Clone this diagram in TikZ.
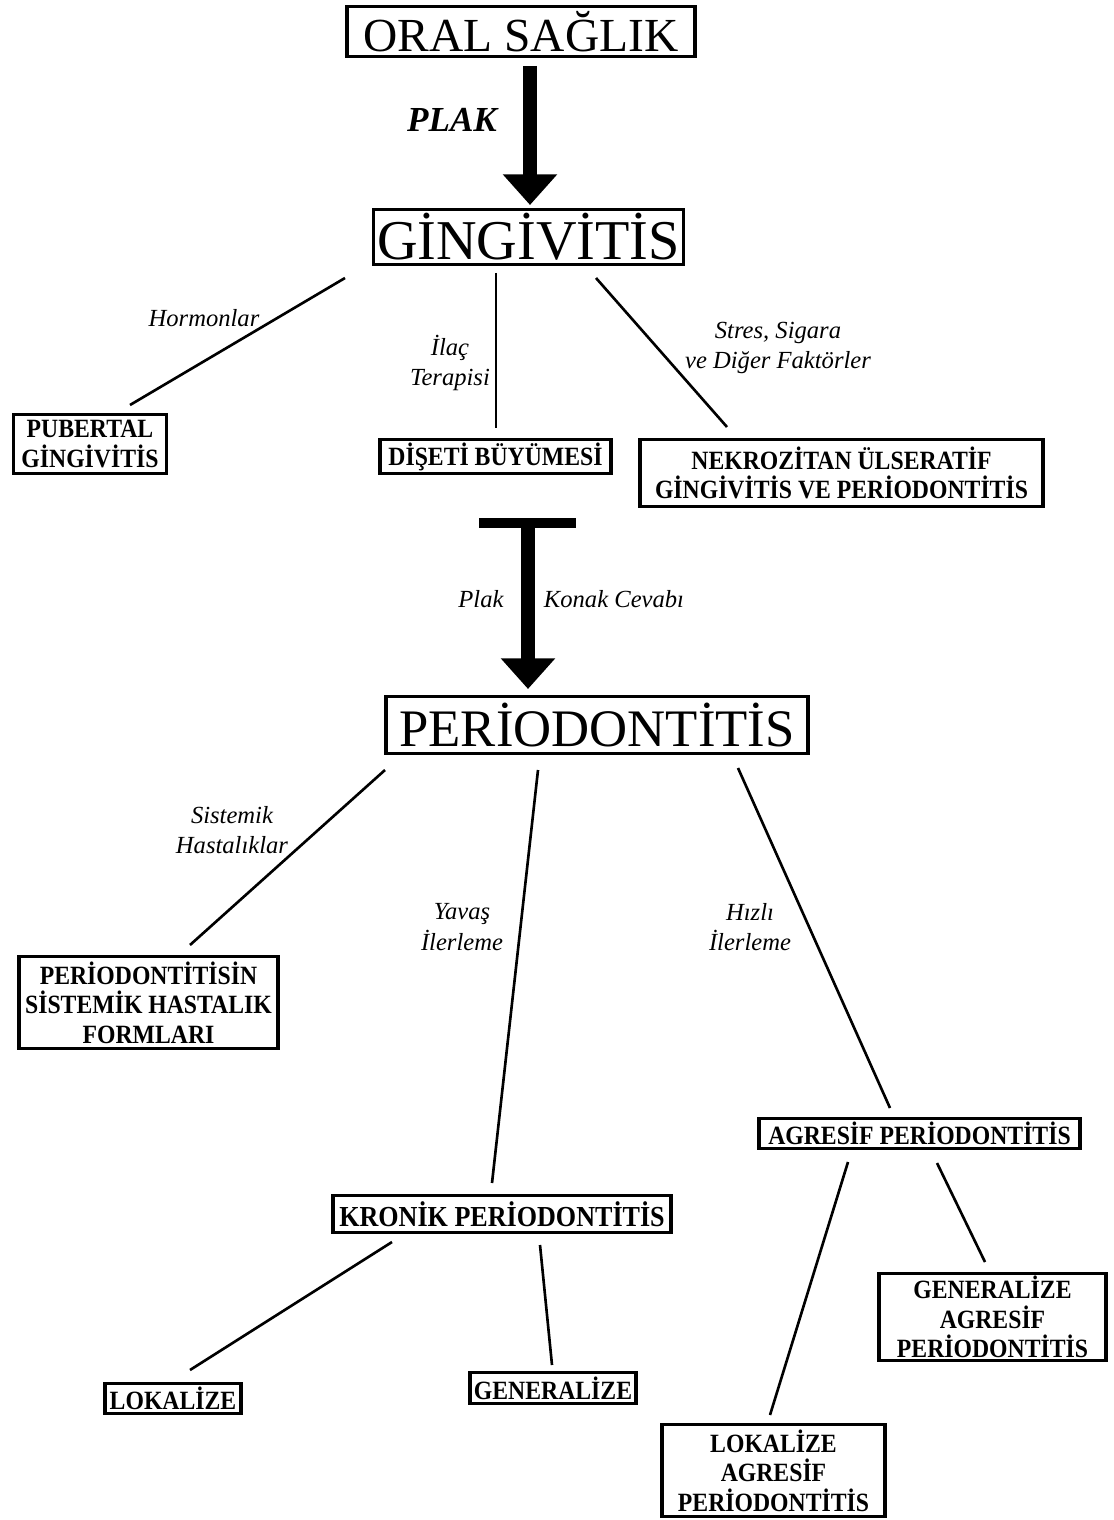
\documentclass[tikz,border=0pt]{standalone}
\usepackage{fontspec}
\setmainfont{Liberation Serif}
\newfontfamily\narrowbold{Liberation Serif}[FakeStretch=0.9]
\usetikzlibrary{arrows.meta}

\begin{document}
\begin{tikzpicture}[x=0.02cm,y=-0.02cm,
    box/.style={draw,line width=2.2pt,inner sep=0pt,align=center},
    headbox/.style={box,font=\fontsize{#1}{#1}\selectfont},
    itembox/.style={box,font=\narrowbold\bfseries\fontsize{#1}{16.8}\selectfont},
    itembox/.default=15,
    lbl/.style={font=\itshape\fontsize{14}{17.5}\selectfont,align=center,inner sep=0pt},
    link/.style={line width=1.5pt},
    bigarrow/.style={line width=8pt,-{Triangle[width=30pt,length=17.5pt]}}]
    \useasboundingbox (0,0) rectangle (1114,1520);
    % top
    \node[headbox=27,minimum width=6.97cm,minimum height=1cm] (oral) at (521,31.5) {ORAL SAĞLIK};
    \node[headbox=32,minimum width=6.2cm,minimum height=1.1cm] (ging) at (528.5,237) {GİNGİVİTİS};
    \coordinate (plakA) at (530,66);
    \coordinate (plakB) at (530,205);
    \draw[bigarrow] (plakA) -- (plakB);
    \node[font=\bfseries\itshape\fontsize{20}{24}\selectfont] (plak) at (452,120) {PLAK};
    % gingivitis branches
    \node[itembox,minimum width=3.06cm,minimum height=1.18cm] (pub) at (90,444) {PUBERTAL\\GİNGİVİTİS};
    \node[itembox,minimum width=4.63cm,minimum height=0.68cm] (dis) at (495.5,456.5) {DİŞETİ BÜYÜMESİ};
    \node[itembox,minimum width=8.07cm,minimum height=1.34cm] (nek) at (841.5,473) {NEKROZİTAN ÜLSERATİF\\GİNGİVİTİS VE PERİODONTİTİS};
    \coordinate (ging-l) at (345,278);
    \coordinate (pub-t) at (130,405);
    \coordinate (ging-m) at (496,273);
    \coordinate (dis-t) at (496,428);
    \coordinate (ging-r) at (596,278);
    \coordinate (nek-t) at (727,427);
    \draw[link] (ging-l) -- (pub-t);
    \draw[link] (ging-m) -- (dis-t);
    \draw[link] (ging-r) -- (nek-t);
    \node[lbl] (hormon) at (204,318) {Hormonlar};
    \node[lbl] (ilac) at (450,363) {İlaç\\Terapisi};
    \node[lbl] (stres) at (778,348) {Stres, Sigara\\ve Diğer Faktörler};
    % blocked arrow
    \coordinate (barL) at (479,523);
    \coordinate (barR) at (576,523);
    \coordinate (konA) at (528,523);
    \coordinate (konB) at (528,689);
    \draw[line width=5.5pt] (barL) -- (barR);
    \draw[bigarrow] (konA) -- (konB);
    \node[lbl] (plak2) at (481,599) {Plak};
    \node[lbl] (konak) at (614,599) {Konak Cevabı};
    \node[headbox=30,minimum width=8.45cm,minimum height=1.14cm] (perio) at (597,725) {PERİODONTİTİS};
    % periodontitis branches
    \node[itembox,minimum width=5.19cm,minimum height=1.84cm] (sist) at (148.5,1002.5) {PERİODONTİTİSİN\\SİSTEMİK HASTALIK\\FORMLARI};
    \node[itembox,minimum width=6.43cm,minimum height=0.6cm] (agr) at (919.5,1133.5) {AGRESİF PERİODONTİTİS};
    \node[itembox=16.5,minimum width=6.77cm,minimum height=0.74cm] (kron) at (502,1214) {KRONİK PERİODONTİTİS};
    \coordinate (perio-l) at (385,770);
    \coordinate (sist-t) at (190,945);
    \coordinate (perio-m) at (538,770);
    \coordinate (kron-t) at (492,1183);
    \coordinate (perio-r) at (738,768);
    \coordinate (agr-t) at (890,1108);
    \draw[link] (perio-l) -- (sist-t);
    \draw[link] (perio-m) -- (kron-t);
    \draw[link] (perio-r) -- (agr-t);
    \node[lbl] (sistlbl) at (232,830) {Sistemik\\Hastalıklar};
    \node[lbl] (yavas) at (462,927) {Yavaş\\İlerleme};
    \node[lbl] (hizli) at (750,927) {Hızlı\\İlerleme};
    % bottom level
    \node[itembox,minimum width=2.73cm,minimum height=0.6cm] (lok) at (173,1398.5) {LOKALİZE};
    \node[itembox,minimum width=3.33cm,minimum height=0.62cm] (gen) at (553,1388) {GENERALİZE};
    \node[itembox,minimum width=4.55cm,minimum height=1.74cm] (genagr) at (992.5,1317) {GENERALİZE\\AGRESİF\\PERİODONTİTİS};
    \node[itembox,minimum width=4.47cm,minimum height=1.84cm] (lokagr) at (773.5,1470.5) {LOKALİZE\\AGRESİF\\PERİODONTİTİS};
    \coordinate (kron-l) at (392,1242);
    \coordinate (lok-t) at (190,1370);
    \coordinate (kron-r) at (540,1245);
    \coordinate (gen-t) at (552,1365);
    \coordinate (agr-l) at (848,1162);
    \coordinate (lokagr-t) at (770,1415);
    \coordinate (agr-r) at (937,1163);
    \coordinate (genagr-t) at (985,1262);
    \draw[link] (kron-l) -- (lok-t);
    \draw[link] (kron-r) -- (gen-t);
    \draw[link] (agr-l) -- (lokagr-t);
    \draw[link] (agr-r) -- (genagr-t);
\end{tikzpicture}
\end{document}
